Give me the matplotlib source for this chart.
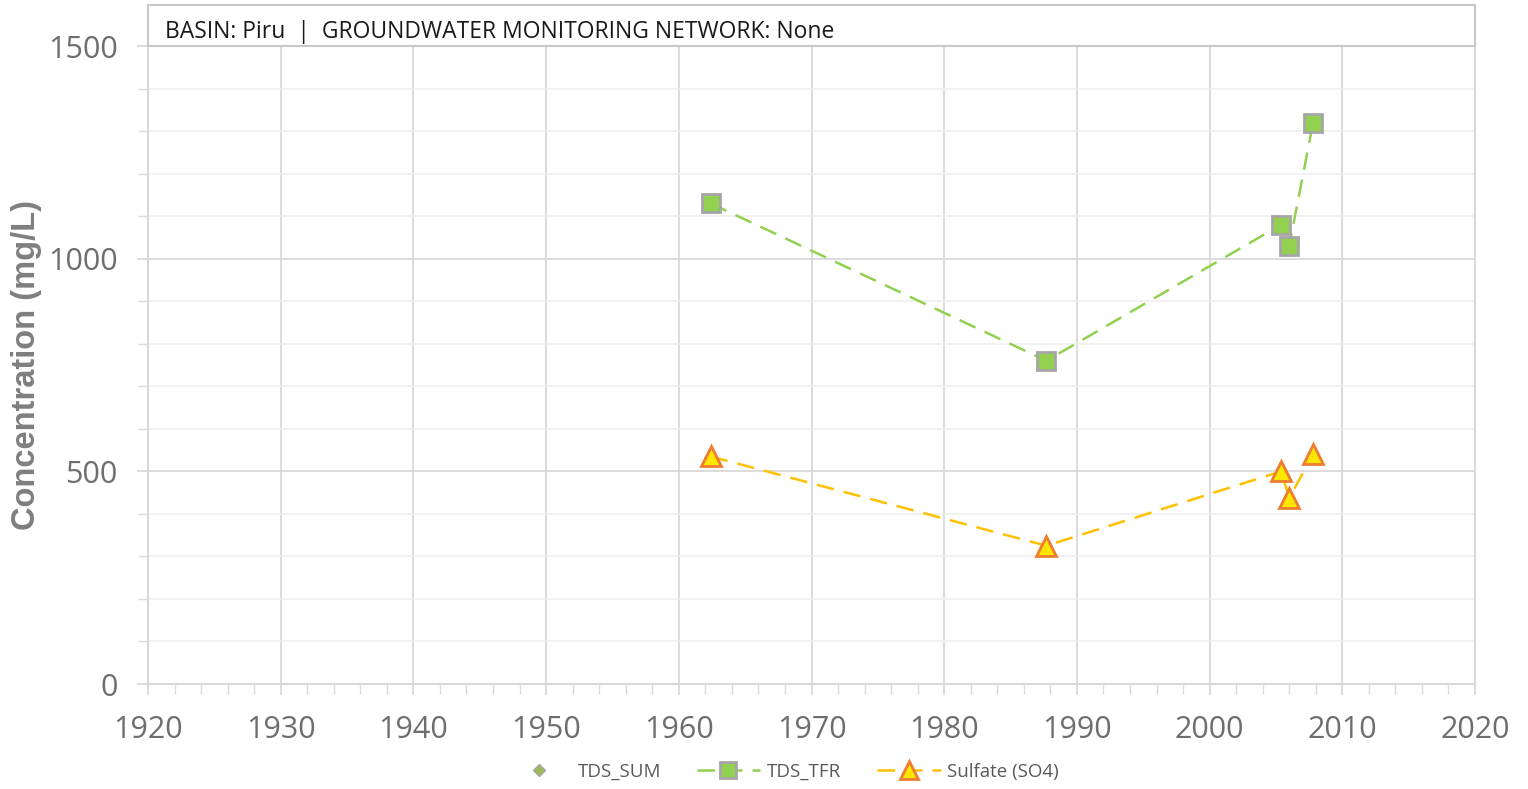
import matplotlib.pyplot as plt
from matplotlib.patches import Rectangle
from matplotlib.ticker import MultipleLocator

# data
tfr_year = [1962.4, 1987.7, 2005.4, 2006.0, 2007.8]
tfr_val = [1130, 760, 1080, 1030, 1320]
so4_year = [1962.4, 1987.7, 2005.4, 2006.0, 2007.8]
so4_val = [535, 325, 500, 437, 540]
sum_year = []
sum_val = []

header = "BASIN: Piru  |  GROUNDWATER MONITORING NETWORK: None"

gray_txt = "#595959"
grid_c = "#D9D9D9"

fig = plt.figure(figsize=(15.28, 7.89), dpi=100)
ax = fig.add_axes([148/1528, 1-684/789, (1475-148)/1528, (684-46)/789])

ax.plot(sum_year, sum_val, ls="none", marker="D", ms=7, mfc="#9BBB59", mec="#A6A6A6",
        label="TDS_SUM")
ax.plot(tfr_year, tfr_val, ls=(0, (7, 4)), lw=1.8, color="#92D050", marker="s", ms=13,
        mfc="#92D050", mec="#A6A6A6", mew=2, label="TDS_TFR", zorder=3)
ax.plot(so4_year, so4_val, ls=(0, (7, 4)), lw=1.8, color="#FFC000", marker="^", ms=15,
        mfc="#FFE600", mec="#ED7D31", mew=2, label="Sulfate (SO4)", zorder=3)

ax.set_xlim(1920, 2020)
ax.set_ylim(0, 1500)
ax.xaxis.set_major_locator(MultipleLocator(10))
ax.xaxis.set_minor_locator(MultipleLocator(2))
ax.yaxis.set_major_locator(MultipleLocator(500))
ax.yaxis.set_minor_locator(MultipleLocator(100))

ax.grid(True, which="major", color=grid_c, lw=1.3)
ax.grid(True, which="minor", axis="y", color="#EDEDED", lw=1.1)
ax.set_axisbelow(True)

for s in ["left", "bottom", "right"]:
    ax.spines[s].set_color(grid_c)
    ax.spines[s].set_linewidth(1.5)
ax.spines["top"].set_visible(False)

ax.tick_params(axis="both", which="major", colors=grid_c, labelcolor="#6E6E6E",
               labelsize=22, length=8, width=1.3, direction="out")
ax.tick_params(axis="both", which="minor", colors=grid_c, length=7, width=1, direction="out")
ax.tick_params(axis="x", which="major", pad=14)
ax.tick_params(axis="y", which="major", pad=14)
for lab in ax.get_xticklabels() + ax.get_yticklabels():
    lab.set_family("Open Sans")

fig.text(27/1528, 1-365/789, "Concentration (mg/L)", rotation=90, ha="center", va="center",
         fontsize=23.5, fontweight="bold", color="#7F7F7F", family="Liberation Sans")

# header box above the plot
fig.patches.append(Rectangle((148/1528, 1-46/789), (1475-148)/1528, 41/789,
                             transform=fig.transFigure, fill=False, ec="#C8C8C8", lw=1.5))
fig.text(165/1528, 1-32/789, header, fontsize=16.5, color="#1A1A1A", family="Open Sans",
         va="center", ha="left")

leg = fig.legend(loc="center", bbox_to_anchor=(783/1528, 1-772/789), ncol=3, frameon=False,
                 handlelength=3.4, columnspacing=1.9, handletextpad=0.35, markerscale=0.85,
                 prop={"family": "Open Sans", "size": 13.5})
for t in leg.get_texts():
    t.set_color(gray_txt)

fig.savefig("out.png", dpi=100)
